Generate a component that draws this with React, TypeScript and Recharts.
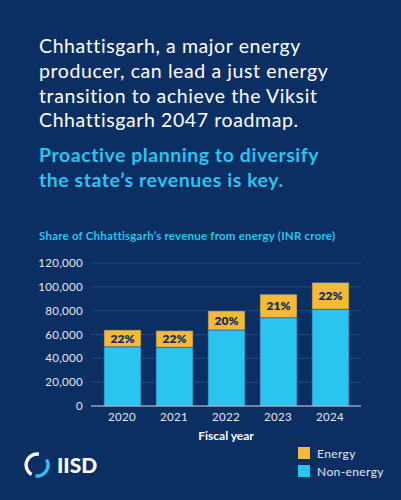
import { BarChart, Bar, XAxis, YAxis, CartesianGrid, LabelList } from "recharts";

const years = ["2020", "2021", "2022", "2023", "2024"];
const nonEnergy = [49700, 49200, 63800, 74100, 81200];
const energy = [14100, 14000, 16000, 19700, 22400];
const shareLabels = ["22%", "22%", "20%", "21%", "22%"];
const yTicks = [0, 20000, 40000, 60000, 80000, 100000, 120000];

const legendItems = [
  { label: "Energy", color: "#F8B83A" },
  { label: "Non-energy", color: "#2BC4EE" },
];

const data = years.map((year, i) => ({
  year,
  nonEnergy: nonEnergy[i],
  energy: energy[i],
  share: shareLabels[i],
}));

const BG = "#0B2F62";
const FONT = "Lato, 'Open Sans', sans-serif";

function Logo() {
  // ring mark + wordmark
  return (
    <div style={{ position: "absolute", left: 24, top: 452, display: "flex", alignItems: "center" }}>
      <svg width={26} height={26} viewBox="0 0 26 26">
        <path d="M 14.9 2.2 A 11 11 0 0 0 7.5 22.5" fill="none" stroke="#fff" strokeWidth={3.4} />
        <path d="M 11.5 23.9 A 11 11 0 0 0 22.5 7.5" fill="none" stroke="#2BC4EE" strokeWidth={3.4} />
      </svg>
      <span style={{ marginLeft: 7, color: "#fff", fontWeight: 900, fontSize: 21, fontFamily: FONT, lineHeight: "24px" }}>IISD</span>
    </div>
  );
}

export default function App() {
  return (
    <div style={{ position: "absolute", left: 0, top: 0, width: 401, height: 500, background: BG, fontFamily: FONT, overflow: "hidden" }}>
      <div style={{ position: "absolute", left: 39, top: 34, color: "#fff", fontSize: 19.5, lineHeight: "24.8px", letterSpacing: 0.6, whiteSpace: "pre" }}>
        {"Chhattisgarh, a major energy\nproducer, can lead a just energy\ntransition to achieve the Viksit\nChhattisgarh 2047 roadmap."}
      </div>
      <div style={{ position: "absolute", left: 39, top: 143, color: "#2BC4EE", fontSize: 19.5, fontWeight: 700, lineHeight: "24.5px", letterSpacing: 0.55, whiteSpace: "pre" }}>
        {"Proactive planning to diversify\nthe state\u2019s revenues is key."}
      </div>
      <div style={{ position: "absolute", left: 39, top: 229, color: "#2BC4EE", fontSize: 11.5, fontWeight: 700, letterSpacing: 0.22, whiteSpace: "pre" }}>
        Share of Chhattisgarh&#8217;s revenue from energy (INR crore)
      </div>

      <div style={{ position: "absolute", left: 0, top: 0 }}>
        <BarChart width={401} height={500} data={data} margin={{ top: 263, right: 40, bottom: 54, left: 0 }}>
          <CartesianGrid vertical={false} stroke="#27497C" />
          <XAxis
            dataKey="year"
            height={40}
            padding={{ left: 5, right: 5 }}
            tickLine={false}
            tickMargin={1}
            axisLine={{ stroke: "#C9D3E3" }}
            tick={{ fill: "#E4E9F2", fontSize: 11.5, fontFamily: FONT, letterSpacing: 0.3 }}
            label={{ value: "Fiscal year", position: "insideBottom", offset: 6, fill: "#fff", fontSize: 12, fontWeight: 700, fontFamily: FONT }}
          />
          <YAxis
            width={91}
            domain={[0, 120000]}
            ticks={yTicks}
            axisLine={false}
            tickLine={false}
            tick={{ fill: "#E4E9F2", fontSize: 11.5, fontFamily: FONT, letterSpacing: 0.3 }}
            tickFormatter={(v: number) => v.toLocaleString("en-US")}
          />
          <Bar dataKey="nonEnergy" stackId="a" fill="#2BC4EE" barSize={37} stroke="#2E5286" strokeWidth={0.6} isAnimationActive={false} />
          <Bar dataKey="energy" stackId="a" fill="#F8B83A" barSize={37} stroke="#2E5286" strokeWidth={0.6} isAnimationActive={false}>
            <LabelList dataKey="share" position="center" fill={BG} fontSize={12} fontWeight={800} fontFamily={FONT} />
          </Bar>
        </BarChart>
      </div>

      <div style={{ position: "absolute", left: 298, top: 447 }}>
        {legendItems.map((item) => (
          <div key={item.label} style={{ display: "flex", alignItems: "center", height: 12, marginBottom: 6 }}>
            <span style={{ width: 12, height: 12, background: item.color, display: "inline-block" }} />
            <span style={{ marginLeft: 7, color: "#E4E9F2", fontSize: 12, letterSpacing: 0.4 }}>{item.label}</span>
          </div>
        ))}
      </div>

      <Logo />
    </div>
  );
}
